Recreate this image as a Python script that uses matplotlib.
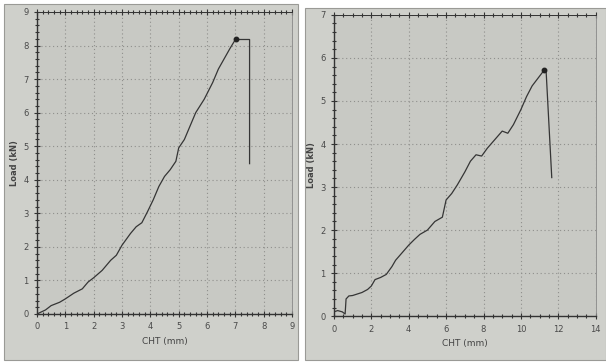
import matplotlib
matplotlib.use('Agg')
import matplotlib.pyplot as plt
from matplotlib.patches import Rectangle
from matplotlib.ticker import MultipleLocator

# left test: load vs CHT
x1 = [0, 0.3, 0.5, 0.8, 1.0, 1.3, 1.6, 1.8, 2.0, 2.3, 2.6, 2.8, 3.0, 3.3, 3.5, 3.7,
      3.9, 4.1, 4.3, 4.5, 4.7, 4.9, 5.0, 5.2, 5.4, 5.6, 5.9, 6.2, 6.4, 6.6, 6.8, 7.0,
      7.5, 7.5]
y1 = [0, 0.12, 0.25, 0.35, 0.45, 0.62, 0.75, 0.95, 1.08, 1.3, 1.6, 1.75, 2.05, 2.4,
      2.6, 2.72, 3.05, 3.4, 3.8, 4.1, 4.3, 4.55, 4.95, 5.2, 5.6, 6.0, 6.4, 6.9, 7.3,
      7.6, 7.9, 8.18, 8.18, 4.48]
peak1 = (7.02, 8.18)

# right test
x2 = [0, 0.2, 0.45, 0.6, 0.65, 0.8, 1.0, 1.5, 1.8, 2.0, 2.2, 2.5, 2.8, 3.1, 3.3, 3.6,
      4.0, 4.3, 4.6, 5.0, 5.4, 5.8, 6.0, 6.3, 6.6, 7.0, 7.3, 7.6, 7.9, 8.2, 8.6, 9.0,
      9.3, 9.6, 10.0, 10.3, 10.6, 11.25, 11.35, 11.65]
y2 = [0.1, 0.13, 0.1, 0.05, 0.4, 0.47, 0.48, 0.55, 0.62, 0.7, 0.85, 0.9, 0.97, 1.15,
      1.3, 1.45, 1.65, 1.78, 1.9, 2.0, 2.2, 2.3, 2.7, 2.85, 3.05, 3.35, 3.6, 3.75,
      3.72, 3.9, 4.1, 4.3, 4.25, 4.45, 4.8, 5.1, 5.35, 5.72, 5.68, 3.22]
peak2 = (11.25, 5.72)

paper = '#c8c9c4'
fig = plt.figure(figsize=(6.06, 3.63), dpi=100)
fig.patch.set_facecolor('white')
fig.patches.append(Rectangle((0.006, 0.008), 0.486, 0.98, transform=fig.transFigure,
                             facecolor='#cfd0cb', edgecolor='#9a9a96', lw=0.8, zorder=-5))
fig.patches.append(Rectangle((0.503, 0.008), 0.497, 0.97, transform=fig.transFigure,
                             facecolor='#cfd0cb', edgecolor='#9a9a96', lw=0.8, zorder=-5))

ax1 = fig.add_axes([0.061, 0.135, 0.421, 0.832])
ax2 = fig.add_axes([0.551, 0.129, 0.432, 0.830])


def style(ax, xmax, ymax, xstep, xminor):
    ax.set_facecolor(paper)
    ax.set_xlim(0, xmax)
    ax.set_ylim(0, ymax)
    ax.xaxis.set_major_locator(MultipleLocator(xstep))
    ax.xaxis.set_minor_locator(MultipleLocator(xminor))
    ax.yaxis.set_major_locator(MultipleLocator(1))
    ax.yaxis.set_minor_locator(MultipleLocator(0.2))
    ax.grid(True, which='major', ls=(0, (1, 2.5)), color='#8f8f8c', lw=0.8)
    ax.tick_params(which='both', direction='inout', color='#333333', labelsize=6,
                   labelcolor='#4a4a4a', width=0.8, top=True)
    ax.tick_params(which='major', length=5)
    ax.tick_params(which='minor', length=3)
    ax.spines['right'].set_color('#888888')
    ax.spines['right'].set_linewidth(0.6)
    for s in ['left', 'bottom', 'top']:
        ax.spines[s].set_color('#333333')
        ax.spines[s].set_linewidth(1.0)
    ax.spines['top'].set_linewidth(0.7)
    ax.set_xlabel('CHT (mm)', fontsize=6.5, color='#444444', labelpad=4)
    ax.set_ylabel('Load (kN)', fontsize=6, color='#444444', fontweight='bold', labelpad=3)


style(ax1, 9, 9, 1, 0.2)
style(ax2, 14, 7, 2, 0.5)

ax1.plot(x1, y1, color='#353535', lw=0.9)
ax1.plot(*peak1, 'o', color='#222222', ms=3.2)
ax2.plot(x2, y2, color='#353535', lw=0.9)
ax2.plot(*peak2, 'o', color='#222222', ms=3.2)

fig.savefig('out.png', dpi=100)
